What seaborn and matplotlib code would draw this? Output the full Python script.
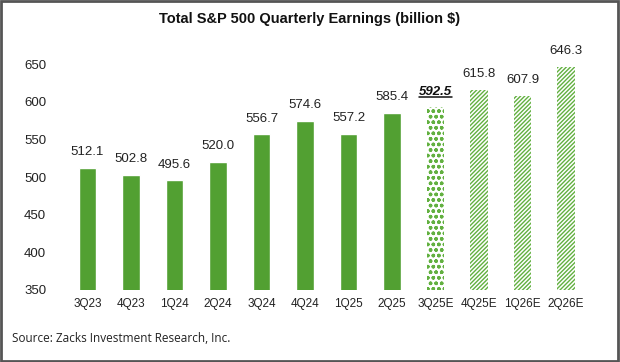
import pandas as pd
import matplotlib
matplotlib.use('Agg')
import matplotlib.pyplot as plt
import seaborn as sns
from matplotlib.patches import Rectangle

# Data
quarters = ['3Q23', '4Q23', '1Q24', '2Q24', '3Q24', '4Q24', '1Q25', '2Q25',
            '3Q25E', '4Q25E', '1Q26E', '2Q26E']
earnings = [512.1, 502.8, 495.6, 520.0, 556.7, 574.6, 557.2, 585.4,
            592.5, 615.8, 607.9, 646.3]
estimate = [False] * 8 + [True] * 4

df = pd.DataFrame({'quarter': quarters, 'earnings': earnings})

sns.set_style('white')
plt.rcParams['font.family'] = ['Liberation Sans', 'DejaVu Sans']
plt.rcParams['hatch.linewidth'] = 1.0

green = '#52a032'
light = '#62b040'

fig = plt.figure(figsize=(6.2, 3.62), dpi=100)
ax = fig.add_axes([0.106, 0.199, 0.842, 0.624])

sns.barplot(x='quarter', y='earnings', data=df, color=green, width=0.41,
            saturation=1, ax=ax)

# Estimated quarters get patterned fills
for i, (bar, est) in enumerate(zip(ax.patches, estimate)):
    if est:
        bar.set_facecolor('white')
        bar.set_edgecolor(light)
        bar.set_linewidth(0)
        bar.set_hatch('ooo' if i == 8 else '////////')

ax.set_ylim(350, 650)
ax.set_yticks(range(350, 651, 50))
ax.set_xlabel('')
ax.set_ylabel('')
for s in ax.spines.values():
    s.set_visible(False)
ax.tick_params(axis='both', length=0, colors='#222222')
ax.tick_params(axis='y', pad=14, labelsize=9.5)
ax.tick_params(axis='x', pad=6, labelsize=8.5)

# Value labels
labels = []
for i, v in enumerate(earnings):
    if i == 8:
        t = ax.annotate(f'{v:.1f}', (i, v), xytext=(0, 7), textcoords='offset points',
                        ha='center', va='bottom', fontsize=9.5, fontweight='bold',
                        fontstyle='italic', color='#111111', annotation_clip=False)
        labels.append(t)
    else:
        ax.annotate(f'{v:.1f}', (i, v), xytext=(0, 7), textcoords='offset points',
                    ha='center', va='bottom', fontsize=9.5, color='#222222',
                    annotation_clip=False)

# Underline the current-quarter estimate
fig.canvas.draw()
r = fig.canvas.get_renderer()
for t in labels:
    bb = t.get_window_extent(r).transformed(fig.transFigure.inverted())
    fig.add_artist(plt.Line2D([bb.x0, bb.x1], [bb.y0 + 0.002, bb.y0 + 0.002],
                              color='#111111', lw=1.1, transform=fig.transFigure))

fig.text(0.5, 0.948, 'Total S&P 500 Quarterly Earnings (billion $)', ha='center',
         va='center', fontsize=10.5, fontweight='bold', color='#111111')
fig.text(0.02, 0.066, 'Source: Zacks Investment Research, Inc.', ha='left',
         va='center', fontsize=8.5, color='#222222', family=['Open Sans', 'DejaVu Sans'])

# Outer frame
fig.add_artist(Rectangle((0.002, 0.003), 0.995, 0.994, transform=fig.transFigure,
                         fill=False, edgecolor='#555555', lw=2))

fig.savefig('out.png', dpi=100)
